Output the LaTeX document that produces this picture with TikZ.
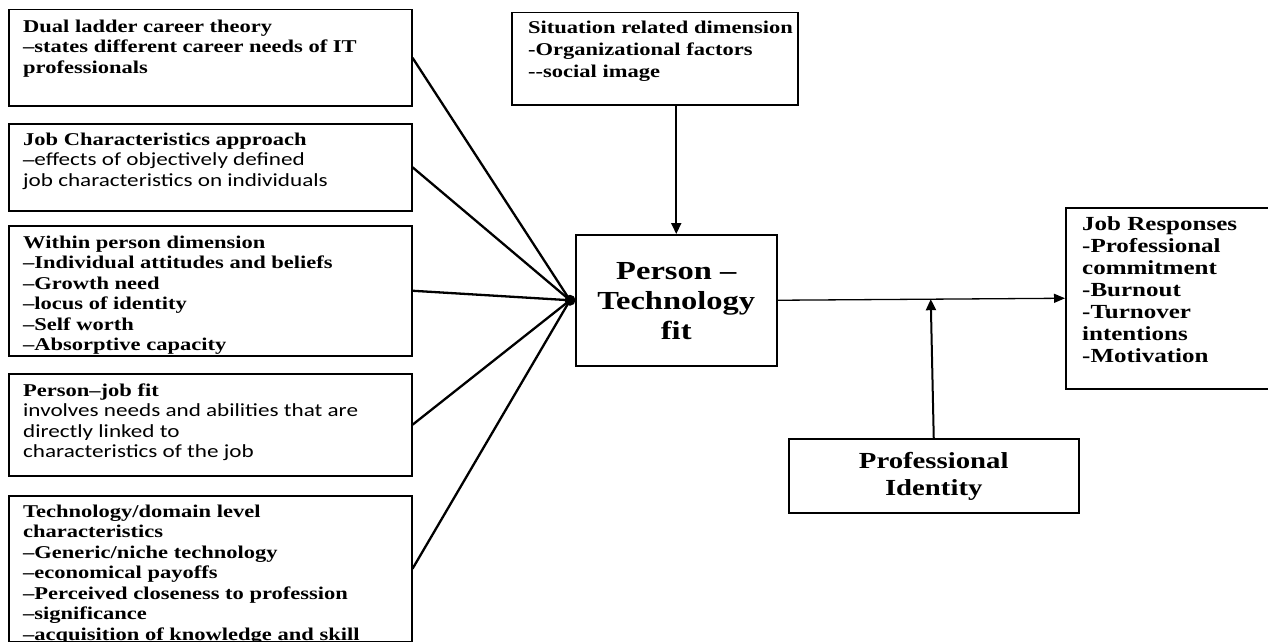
\documentclass[tikz,border=0pt]{standalone}
\usepackage{fontspec}
\setmainfont{Liberation Serif}[FakeStretch=1.25]
\newfontfamily\sansb{Carlito}[FakeStretch=1.25]
\usetikzlibrary{arrows.meta,calc}
\tikzset{
  box/.style={draw, line width=1.5pt, inner sep=0pt, anchor=north west},
  txt/.style={inner sep=0pt, anchor=north west, align=left, font=\bfseries\fontsize{18}{20.5}\selectfont},
  conn/.style={line width=2.3pt},
  arr/.style={line width=2pt, -{Triangle[length=11pt,width=10pt]}},
}
\begin{document}
\begin{tikzpicture}[x=1pt,y=-1pt]
\useasboundingbox (0,0) rectangle (1268,642);
% left boxes
\node[box, minimum width=403, minimum height=96] (b1) at (8,9) {};
\node[box, minimum width=403, minimum height=87] (b2) at (8,123) {};
\node[box, minimum width=403, minimum height=130] (b3) at (8,225) {};
\node[box, minimum width=403, minimum height=102] (b4) at (8,373) {};
\node[box, minimum width=403, minimum height=146] (b5) at (8,495) {};
\node[txt] (t1) at ($(b1.north west)+(15,10.5)$) {Dual ladder career theory\\–states different career needs of IT\\professionals};
\node[txt] (t2) at ($(b2.north west)+(15,9.5)$) {Job Characteristics approach\\–{\sansb\mdseries\fontsize{18.5}{20.5}\selectfont effects of objectively defined}\\{\sansb\mdseries\fontsize{18.5}{20.5}\selectfont job characteristics on individuals}};
\node[txt] (t3) at ($(b3.north west)+(15,10.5)$) {Within person dimension\\–Individual attitudes and beliefs\\–Growth need\\–locus of identity\\–Self worth\\–Absorptive capacity};
\node[txt] (t4) at ($(b4.north west)+(15,10.5)$) {Person–job fit\\{\sansb\mdseries\fontsize{18.5}{20.5}\selectfont involves needs and abilities that are}\\{\sansb\mdseries\fontsize{18.5}{20.5}\selectfont directly linked to}\\{\sansb\mdseries\fontsize{18.5}{20.5}\selectfont characteristics of the job}};
\node[txt] (t5) at ($(b5.north west)+(15,9.5)$) {Technology/domain level\\characteristics\\–Generic/niche technology\\–economical payoffs\\–Perceived closeness to profession\\–significance\\–acquisition of knowledge and skill};
% top situation box
\node[box, minimum width=286, minimum height=92] (sit) at (511,12) {};
\node[txt, font=\bfseries\fontsize{18}{22}\selectfont] (tsit) at ($(sit.north west)+(17,8.5)$) {Situation related dimension\\-Organizational factors\\-{}-social image};
% central box
\node[box, minimum width=201, minimum height=131] (pt) at (575,234) {};
\node[inner sep=0pt, align=center, font=\bfseries\fontsize{26}{30}\selectfont] (tpt) at ($(pt.center)+(0,1)$) {Person –\\Technology\\fit};
% job responses
\node[box, minimum width=210, minimum height=181] (jr) at (1065,207) {};
\node[txt, font=\bfseries\fontsize{20}{22}\selectfont] (tjr) at ($(jr.north west)+(17,9)$) {Job Responses\\-Professional\\commitment\\-Burnout\\-Turnover\\intentions\\-Motivation};
% professional identity
\node[box, minimum width=290, minimum height=74] (pi) at (788,438) {};
\node[inner sep=0pt, align=center, font=\bfseries\fontsize{23}{27}\selectfont] (tpi) at ($(pi.center)+(0,1)$) {Professional\\Identity};
% connectors
\coordinate (hub) at ($(pt.west)+(-5,0)$);
\foreach \b in {b1,b2,b3,b4,b5} \draw[conn] (\b.east) -- (hub);
\fill (hub) circle (5.5);
\draw[arr] (pt.north |- sit.south) -- (pt.north);
\draw[line width=1.3pt, -{Triangle[length=11pt,width=9pt]}] (pt.east) -- (jr.west);
\coordinate (mod) at ($(pt.east)!0.533!(jr.west)$);
\draw[arr] (pi.north) -- (mod);
\end{tikzpicture}
\end{document}
